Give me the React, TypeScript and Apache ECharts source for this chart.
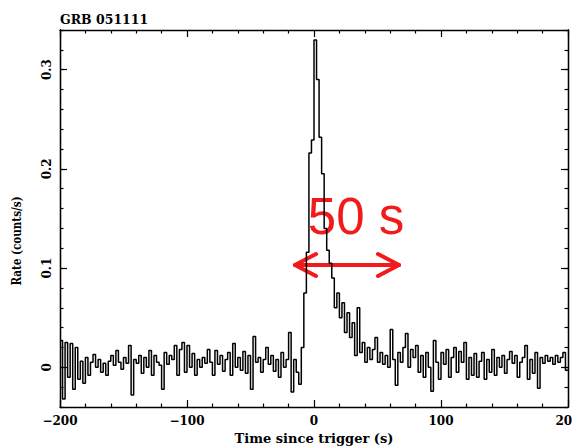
import React, { useEffect, useRef } from "react";
import * as echarts from "echarts";

// Light curve binning: rate per 2 s bin, first bin starting at -200 s
const BIN_START = -200;
const BIN_WIDTH = 2;

// Count rate (counts/s) per bin, from -200 s to +200 s
const rates: number[] = [
  // -200 .. -180
  0.027, -0.032, 0.025, -0.01, 0.024, -0.022, 0.02, -0.012, 0.006, -0.016,
  // -180 .. -160
  0.01, -0.008, 0.005, 0.013, 0.0, 0.008, -0.005, 0.004, -0.008, 0.006,
  // -160 .. -140
  0.012, 0.002, 0.017, 0.005, -0.002, 0.01, 0.004, 0.022, -0.028, 0.008,
  // -140 .. -120
  0.004, 0.012, -0.006, 0.01, 0.0, 0.017, -0.008, 0.012, 0.005, 0.002,
  // -120 .. -100
  -0.022, 0.015, 0.003, 0.012, 0.008, 0.022, -0.008, 0.018, 0.025, -0.005,
  // -100 .. -80
  0.022, 0.0, 0.014, -0.008, 0.008, 0.0, 0.01, 0.004, 0.018, 0.005,
  // -80 .. -60
  -0.008, 0.017, 0.003, 0.012, -0.004, 0.008, 0.015, -0.008, 0.024, 0.0,
  // -60 .. -40
  0.01, -0.003, 0.016, -0.006, 0.012, -0.022, 0.031, 0.005, 0.01, -0.005,
  // -40 .. -20
  0.008, 0.02, 0.003, 0.012, -0.004, 0.008, -0.01, 0.015, 0.0, 0.008,
  // -20 .. 0 (burst onset)
  0.035, -0.025, 0.008, -0.005, -0.017, 0.02, 0.075, 0.116, 0.216, 0.229,
  // 0 .. 20 (peak and fast decay)
  0.33, 0.29, 0.232, 0.195, 0.14, 0.118, 0.105, 0.09, 0.06, 0.075,
  // 20 .. 40
  0.05, 0.065, 0.035, 0.055, 0.03, 0.045, 0.012, 0.06, 0.015, 0.025,
  // 40 .. 60
  0.005, 0.02, 0.008, 0.018, 0.03, 0.005, 0.015, 0.003, 0.012, 0.0,
  // 60 .. 80
  0.038, 0.008, -0.018, 0.015, 0.005, 0.02, 0.034, 0.0, 0.018, 0.01,
  // 80 .. 100
  0.022, -0.005, 0.012, -0.01, 0.015, 0.0, -0.024, 0.027, 0.005, -0.012,
  // 100 .. 120
  0.015, 0.003, 0.018, -0.01, 0.01, 0.02, -0.005, 0.016, 0.005, 0.025,
  // 120 .. 140
  -0.012, 0.01, -0.008, 0.014, -0.01, 0.006, 0.015, -0.012, 0.008, -0.005,
  // 140 .. 160
  0.018, -0.008, 0.01, 0.0, 0.012, -0.006, 0.008, 0.016, 0.004, 0.012,
  // 160 .. 180
  -0.01, 0.005, 0.01, 0.022, -0.012, 0.008, -0.006, 0.015, -0.021, 0.01,
  // 180 .. 200
  0.004, 0.012, 0.006, 0.01, 0.003, 0.012, 0.005, 0.01, 0.015, -0.003,
];

// Axis ranges and tick positions
const xRange = [-200, 200];
const xMajorStep = 100;
const yRange = [-0.04, 0.34];
const yMajorTicks = [0, 0.1, 0.2, 0.3];
const yMinorTicks = [
  -0.04, -0.02, 0, 0.02, 0.04, 0.06, 0.08, 0.1, 0.12, 0.14, 0.16, 0.18, 0.2,
  0.22, 0.24, 0.26, 0.28, 0.3, 0.32, 0.34,
];

const TITLE = "GRB 051111";
const X_NAME = "Time since trigger (s)";
const Y_NAME = "Rate (counts/s)";
const NOTE = "50 s";

const SERIF = '"DejaVu Serif", "Liberation Serif", serif';
const RED = "#f21a1a";

export default function App() {
  const ref = useRef<HTMLDivElement>(null);

  useEffect(() => {
    document.body.style.margin = "0";
    if (!ref.current) return;
    const chart = echarts.init(ref.current, undefined, { renderer: "svg" });

    // step histogram: each bin drawn from its left edge, closed at the last right edge
    const points: [number, number][] = rates.map((v, i) => [
      BIN_START + i * BIN_WIDTH,
      v,
    ]);
    points.push([BIN_START + rates.length * BIN_WIDTH, rates[rates.length - 1]]);

    const axisLine = {
      show: true,
      onZero: false,
      lineStyle: { color: "#000", width: 1.3 },
    };
    const labelFont = {
      color: "#000",
      fontFamily: SERIF,
      fontWeight: "bold" as const,
      fontSize: 12,
    };

    const xBase = {
      type: "value" as const,
      min: xRange[0],
      max: xRange[1],
      interval: xMajorStep,
      axisLine,
      splitLine: { show: false },
      axisTick: {
        show: true,
        inside: true,
        length: 7,
        lineStyle: { color: "#000", width: 1.2 },
      },
      minorTick: {
        show: true,
        splitNumber: 5,
        length: 3.5,
        lineStyle: { color: "#000", width: 1.2 },
      },
    };

    const yBase = {
      type: "value" as const,
      min: yRange[0],
      max: yRange[1],
      axisLine,
      splitLine: { show: false },
    };
    const majorTick = {
      show: true,
      inside: true,
      length: 7,
      customValues: yMajorTicks,
      lineStyle: { color: "#000", width: 1.2 },
    };
    const minorTick = {
      show: true,
      inside: true,
      length: 3.5,
      customValues: yMinorTicks,
      lineStyle: { color: "#000", width: 1.2 },
    };

    const arrowStyle = {
      stroke: RED,
      fill: "none",
      lineWidth: 4,
      lineCap: "round" as const,
      lineJoin: "round" as const,
    };

    chart.setOption({
      animation: false,
      backgroundColor: "#fff",
      grid: {
        left: 60,
        right: 4,
        top: 30,
        bottom: 40,
        containLabel: false,
        outerBoundsMode: "none",
      },
      title: {
        text: TITLE,
        left: 60,
        top: 13,
        padding: 0,
        textStyle: {
          color: "#000",
          fontFamily: SERIF,
          fontWeight: "bold",
          fontSize: 12.5,
        },
      },
      xAxis: [
        {
          ...xBase,
          position: "bottom",
          name: X_NAME,
          nameLocation: "middle",
          nameGap: 24,
          nameTextStyle: { ...labelFont, fontSize: 13 },
          axisLabel: {
            ...labelFont,
            margin: 8,
            formatter: (v: number) =>
              v < 0 ? "\u2212" + Math.abs(v) : String(v),
          },
        },
        {
          ...xBase,
          position: "top",
          axisLabel: { show: false },
        },
      ],
      yAxis: [
        {
          ...yBase,
          position: "left",
          axisTick: majorTick,
          axisLabel: {
            ...labelFont,
            customValues: yMajorTicks,
            rotate: 90,
            margin: 7,
            formatter: (v: number) => (v === 0 ? "0" : v.toFixed(1)),
          },
        },
        {
          ...yBase,
          position: "left",
          axisTick: minorTick,
          axisLabel: { show: false },
        },
        {
          ...yBase,
          position: "right",
          axisTick: majorTick,
          axisLabel: { show: false },
        },
        {
          ...yBase,
          position: "right",
          axisTick: minorTick,
          axisLabel: { show: false },
        },
      ],
      series: [
        {
          type: "line",
          step: "end",
          data: points,
          xAxisIndex: 0,
          yAxisIndex: 0,
          showSymbol: false,
          symbol: "none",
          lineStyle: { color: "#000", width: 1.5 },
          silent: true,
        },
      ],
      graphic: [
        {
          type: "text",
          x: 17,
          y: 241,
          rotation: Math.PI / 2,
          scaleX: 0.8,
          style: {
            text: Y_NAME,
            fill: "#000",
            font: `bold 13px ${SERIF}`,
            align: "center",
            verticalAlign: "middle",
          },
        },
        {
          type: "group",
          children: [
            {
              type: "polyline",
              shape: {
                points: [
                  [295, 265],
                  [399, 265],
                ],
              },
              style: arrowStyle,
            },
            {
              type: "polyline",
              shape: {
                points: [
                  [316, 254],
                  [295, 265],
                  [316, 276],
                ],
              },
              style: arrowStyle,
            },
            {
              type: "polyline",
              shape: {
                points: [
                  [378, 254],
                  [399, 265],
                  [378, 276],
                ],
              },
              style: arrowStyle,
            },
          ],
        },
        {
          type: "text",
          x: 356,
          y: 216,
          style: {
            text: NOTE,
            fill: RED,
            font: 'normal 51px "Liberation Sans", Arial, sans-serif',
            align: "center",
            verticalAlign: "middle",
          },
        },
      ],
    });

    return () => chart.dispose();
  }, []);

  return <div ref={ref} style={{ width: 572, height: 447 }} />;
}
